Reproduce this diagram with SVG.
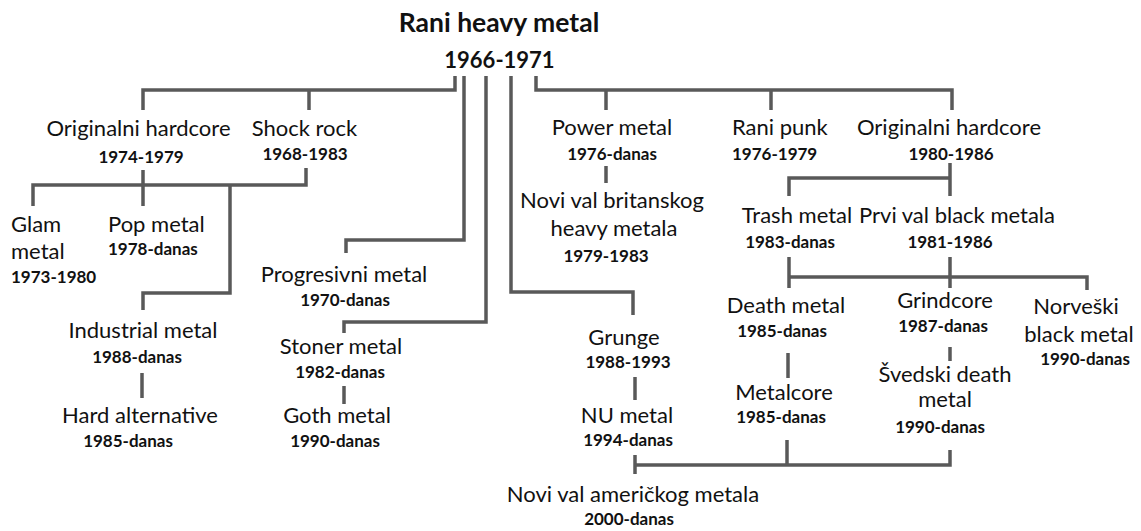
<svg xmlns="http://www.w3.org/2000/svg" width="1141" height="531" viewBox="0 0 1141 531">
<style>
.n{font-family:Lato,"Liberation Sans",sans-serif;font-size:22px;fill:#111;text-anchor:middle}
.y{font-family:Lato,"Liberation Sans",sans-serif;font-size:17px;font-weight:bold;fill:#111;text-anchor:middle}
.l{text-anchor:start}
.t{font-family:Lato,"Liberation Sans",sans-serif;font-size:26.5px;font-weight:bold;fill:#111;text-anchor:middle}
.ty{font-family:Lato,"Liberation Sans",sans-serif;font-size:22px;font-weight:bold;fill:#111;text-anchor:middle}
.c path{fill:none;stroke:#595959;stroke-width:3.5}
</style>
<rect width="1141" height="531" fill="#fff"/>
<g class="c" id="connectors">
<path d="M455,76V90H143V110M309,90V110"/>
<path d="M464,76V240H346V253"/>
<path d="M486,76V322H344V333"/>
<path d="M511,76V292H633V315"/>
<path d="M536,76V90H952V110M606,90V110M771,90V110"/>
<path d="M143,170V206M306,168V185H33V206M230,185V293H143V310"/>
<path d="M142,373V398"/>
<path d="M344,386V404"/>
<path d="M606,166V183"/>
<path d="M950,163V178H789V196M950,178V196"/>
<path d="M789,257V288M789,277H1087V290M950,257V288"/>
<path d="M788,353V378M950,347V361"/>
<path d="M635,377V400"/>
<path d="M635,455V474M635,465H950V450M787,440V465"/>
</g>
<g id="root"><text class="t" x="499" y="32">Rani heavy metal</text><text class="ty" x="499.5" y="68">1966-1971</text></g>
<g id="orig1"><text class="n" x="138.5" y="136">Originalni hardcore</text><text class="y" x="141" y="163">1974-1979</text></g>
<g id="shock"><text class="n" x="304.5" y="136">Shock rock</text><text class="y" x="305" y="160">1968-1983</text></g>
<g id="power"><text class="n" x="612" y="135">Power metal</text><text class="y" x="612" y="160">1976-danas</text></g>
<g id="punk"><text class="n l" x="732" y="135">Rani punk</text><text class="y l" x="732" y="160">1976-1979</text></g>
<g id="orig2"><text class="n" x="949" y="135">Originalni hardcore</text><text class="y" x="951" y="160">1980-1986</text></g>
<g id="glam"><text class="n l" x="11" y="232">Glam</text><text class="n l" x="11" y="259">metal</text><text class="y l" x="11" y="283">1973-1980</text></g>
<g id="pop"><text class="n l" x="108" y="232">Pop metal</text><text class="y l" x="108" y="255">1978-danas</text></g>
<g id="prog"><text class="n" x="344" y="282">Progresivni metal</text><text class="y" x="345" y="306">1970-danas</text></g>
<g id="industrial"><text class="n" x="143" y="338">Industrial metal</text><text class="y" x="137" y="363">1988-danas</text></g>
<g id="hardalt"><text class="n" x="140" y="423">Hard alternative</text><text class="y" x="128" y="447">1985-danas</text></g>
<g id="stoner"><text class="n" x="341" y="354">Stoner metal</text><text class="y" x="340" y="378">1982-danas</text></g>
<g id="goth"><text class="n" x="337" y="423">Goth metal</text><text class="y" x="335" y="447">1990-danas</text></g>
<g id="nwobhm"><text class="n" x="612" y="208">Novi val britanskog</text><text class="n" x="614" y="236">heavy metala</text><text class="y" x="606" y="262">1979-1983</text></g>
<g id="grunge"><text class="n" x="624" y="345">Grunge</text><text class="y" x="628" y="368">1988-1993</text></g>
<g id="nu"><text class="n" x="627" y="423">NU metal</text><text class="y" x="628" y="446">1994-danas</text></g>
<g id="trash"><text class="n" x="797" y="223">Trash metal</text><text class="y" x="790" y="248">1983-danas</text></g>
<g id="prvi"><text class="n" x="957" y="223">Prvi val black metala</text><text class="y" x="950" y="248">1981-1986</text></g>
<g id="death"><text class="n" x="786" y="313">Death metal</text><text class="y" x="782" y="337">1985-danas</text></g>
<g id="grind"><text class="n" x="945" y="308">Grindcore</text><text class="y" x="943" y="332">1987-danas</text></g>
<g id="norv"><text class="n" x="1076" y="314">Norveški</text><text class="n" x="1079" y="342">black metal</text><text class="y" x="1085" y="365">1990-danas</text></g>
<g id="metalcore"><text class="n" x="784" y="400">Metalcore</text><text class="y" x="781" y="423">1985-danas</text></g>
<g id="sved"><text class="n" x="945" y="382">Švedski death</text><text class="n" x="945" y="407">metal</text><text class="y" x="940" y="433">1990-danas</text></g>
<g id="nwoam"><text class="n" x="633" y="502">Novi val američkog metala</text><text class="y" x="629" y="525">2000-danas</text></g>
</svg>
